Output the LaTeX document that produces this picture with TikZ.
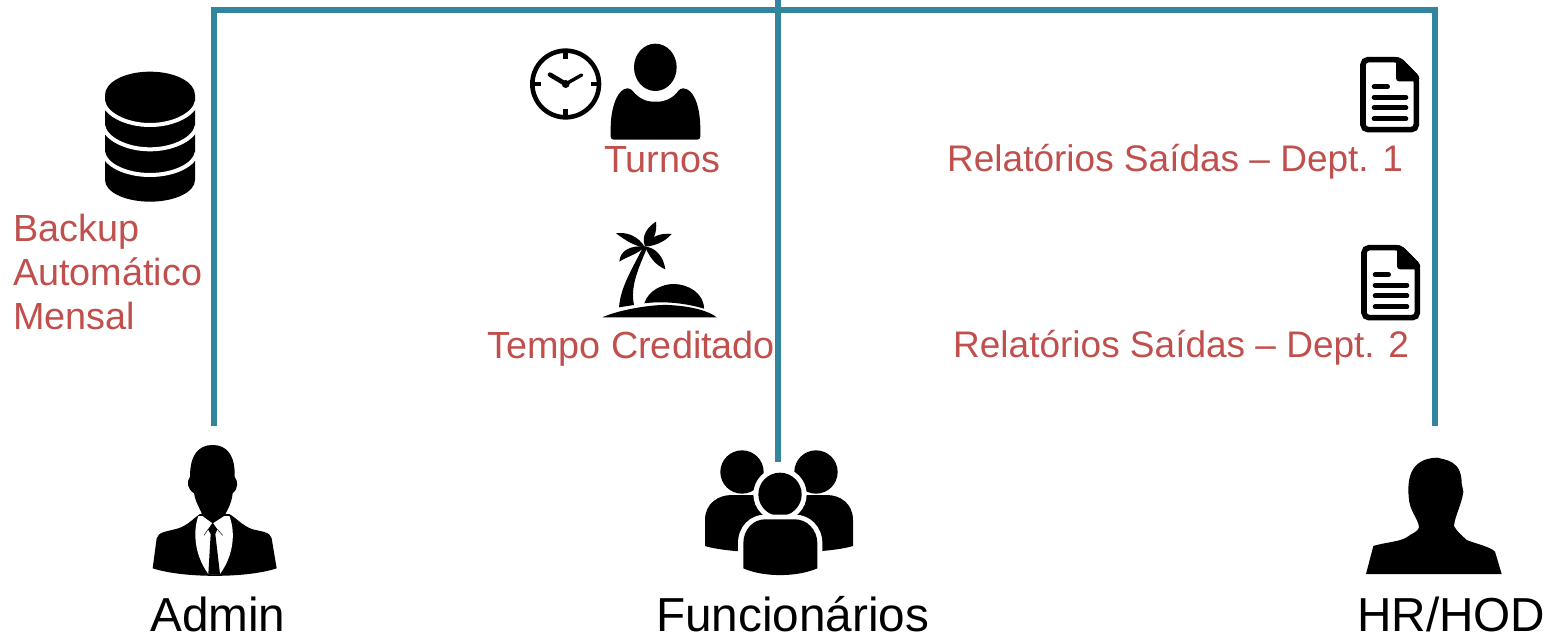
\documentclass[tikz,border=0pt]{standalone}
\usepackage{fontspec}
\setmainfont{Liberation Sans}
\usepackage[dvipsnames]{xcolor}
\definecolor{rail}{HTML}{31859C}
\definecolor{caption}{HTML}{C0504D}
\tikzset{
  link/.style={color=rail, line width=6pt},
  redlabel/.style={color=caption, inner sep=0pt, anchor=base west, font=\fontsize{37.8}{44}\selectfont},
  deptlabel/.style={redlabel, font=\fontsize{37}{44}\selectfont},
  rolelabel/.style={color=black, inner sep=0pt, anchor=base west, font=\fontsize{47.7}{50}\selectfont},
  zoomed/.style={shift={#1}, scale=1/3}
}
\newcommand{\docicon}[1]{
\begin{scope}[zoomed={#1}]
\draw[line width=5.6pt, rounded corners=5pt, fill=white] (69,59) -- (178,59) -- (229,112) -- (229,269) -- (69,269) -- cycle;
\fill[rounded corners=3pt] (168,52) -- (180,52) -- (238,108) -- (238,124) -- (168,124) -- cycle;
\draw[line width=4.6pt, line cap=round] (102,140) -- (143,140);
\foreach \y in {172,203,236} % text lines
\draw[line width=4.6pt, line cap=round] (102,\y) -- (198,\y);
\end{scope}
}

\begin{document}
\begin{tikzpicture}[x=1pt, y=-1pt]
\useasboundingbox (0,0) rectangle (1552,636);

\coordinate (admintop) at (214,426);
\coordinate (railleft) at (214,10);
\coordinate (railright) at (1435,10);
\coordinate (hodtop) at (1435,426);
\coordinate (railtop) at (778,0);
\coordinate (stafftop) at (778,462);
\draw[link] (admintop) -- (railleft) -- (railright) -- (hodtop);
\draw[link] (railtop) -- (stafftop);

% database
\begin{scope}[zoomed={(90,60)}]
\fill (45,105) .. controls (45,66) and (105,35) .. (180,35) .. controls (255,35) and (315,66) .. (315,105) -- (315,360) .. controls (315,396) and (255,425) .. (180,425) .. controls (105,425) and (45,396) .. (45,360) -- cycle;
\foreach \y/\z in {125/195,198/268,278/345} % white bands
\draw[white, line width=4pt] (40,\y) .. controls (45,\y+35) and (105,\z) .. (180,\z) .. controls (255,\z) and (315,\y+35) .. (320,\y);
\end{scope}

% clock, person and island
\begin{scope}[zoomed={(510,30)}]
\draw[line width=4.6pt] (167,162) circle (100);
\foreach \a in {0,90,180,270} % ticks
\draw[line width=4.6pt] (167,162) ++(\a:100) -- ++(\a:-25);
\draw[line width=4.6pt, line cap=round] (120,134) -- (167,162);
\draw[line width=3.4pt, line cap=round] (167,162) -- (215,135);
\fill (167,162) circle (12);
\fill (436,112) ellipse (64 and 71);
\fill[rounded corners=3pt] (302,329) -- (302,290) .. controls (305,225) and (325,175) .. (362,175) .. controls (385,205) and (410,215) .. (436,215) .. controls (462,215) and (490,205) .. (510,175) .. controls (550,175) and (568,225) .. (571,290) -- (571,329) -- cycle;
\fill (327,832) .. controls (332,770) and (365,720) .. (400,650) -- (412,652) .. controls (385,715) and (360,770) .. (372,825) -- cycle;
\fill (405,652) .. controls (385,618) and (350,605) .. (318,610) .. controls (345,630) and (375,650) .. (405,652) -- cycle;
\fill (405,650) .. controls (365,645) and (330,660) .. (328,695) .. controls (350,680) and (385,672) .. (405,650) -- cycle;
\fill (405,650) .. controls (392,615) and (415,590) .. (438,575) .. controls (442,610) and (430,635) .. (405,650) -- cycle;
\fill (405,650) .. controls (420,618) and (455,608) .. (485,612) .. controls (465,635) and (435,648) .. (405,650) -- cycle;
\fill (405,650) .. controls (440,652) and (462,685) .. (466,718) .. controls (435,705) and (418,680) .. (405,650) -- cycle;
\fill (403,820) .. controls (415,780) and (460,762) .. (490,762) .. controls (535,762) and (582,790) .. (582,836) .. controls (530,820) and (460,812) .. (403,820) -- cycle;
\fill (277,862) .. controls (330,838) and (440,820) .. (490,826) .. controls (550,830) and (600,845) .. (620,862) -- cycle;
\end{scope}

\docicon{(1340,40)}
\docicon{(1341,228)}

% admin
\begin{scope}[zoomed={(130,430)}]
\fill (68,415) -- (80,325) .. controls (85,305) and (110,305) .. (145,295) .. controls (175,285) and (190,265) .. (210,252) -- (298,252) .. controls (320,265) and (335,285) .. (365,297) .. controls (395,305) and (420,305) .. (425,325) -- (440,415) .. controls (350,445) and (160,445) .. (68,415) -- cycle;
\fill[white] (205,258) .. controls (190,300) and (190,370) .. (235,432) -- (270,432) .. controls (315,370) and (315,300) .. (298,258) -- cycle;
\fill (248,45) .. controls (205,45) and (180,75) .. (180,140) .. controls (170,155) and (170,175) .. (192,190) .. controls (198,225) and (220,250) .. (215,256) -- (248,280) -- (285,256) .. controls (285,250) and (305,225) .. (308,190) .. controls (325,175) and (325,155) .. (314,140) .. controls (316,75) and (290,45) .. (248,45) -- cycle;
\fill (248,278) -- (262,298) -- (256,312) -- (270,432) -- (235,432) -- (242,312) -- (234,298) -- cycle;
\draw[line width=0.5pt] (234,298) -- (222,316);
\draw[line width=0.5pt] (262,298) -- (278,316);
\end{scope}

% staff
\begin{scope}[zoomed={(690,440)}]
\fill (156,96) circle (65);
\fill (378,96) circle (65);
\fill (45,318) -- (45,240) .. controls (45,190) and (85,165) .. (125,165) -- (410,165) .. controls (450,165) and (489,190) .. (489,240) -- (489,318) .. controls (400,345) and (130,345) .. (45,318) -- cycle;
\fill[white] (270,163) circle (80);
\fill (270,163) circle (65);
\fill[white] (144,400) -- (144,310) .. controls (144,260) and (180,224) .. (225,224) -- (315,224) .. controls (360,224) and (397,260) .. (397,310) -- (397,400) -- cycle;
\fill (160,385) -- (160,310) .. controls (160,268) and (190,238) .. (225,238) -- (315,238) .. controls (350,238) and (382,268) .. (382,310) -- (382,385) .. controls (320,412) and (220,412) .. (160,385) -- cycle;
\end{scope}

% hod
\begin{scope}[zoomed={(1350,440)}]
\fill (48,402) -- (70,318) .. controls (100,308) and (150,305) .. (170,292) .. controls (185,280) and (205,275) .. (207,262) .. controls (205,235) and (178,215) .. (176,170) .. controls (172,120) and (178,55) .. (262,53) .. controls (285,60) and (335,60) .. (335,130) -- (340,155) .. controls (335,195) and (315,225) .. (312,258) .. controls (320,275) and (340,290) .. (350,300) .. controls (380,312) and (420,320) .. (435,335) -- (455,402) -- cycle;
\end{scope}

\node[redlabel, align=left] (backuplabel) at (13,329) {Backup\\Automático\\Mensal};
\node[redlabel] (shiftlabel) at (604,173) {Turnos};
\node[redlabel] (creditlabel) at (487,358) {Tempo Creditado};
\node[deptlabel] (deptonelabel) at (947,172) {Relatórios Saídas – Dept. 1};
\node[deptlabel] (depttwolabel) at (953,357) {Relatórios Saídas – Dept. 2};
\node[rolelabel] (adminlabel) at (150,631) {Admin};
\node[rolelabel] (stafflabel) at (656,631) {Funcionários};
\node[rolelabel] (hodlabel) at (1357,631) {HR/HOD};
\end{tikzpicture}
\end{document}
